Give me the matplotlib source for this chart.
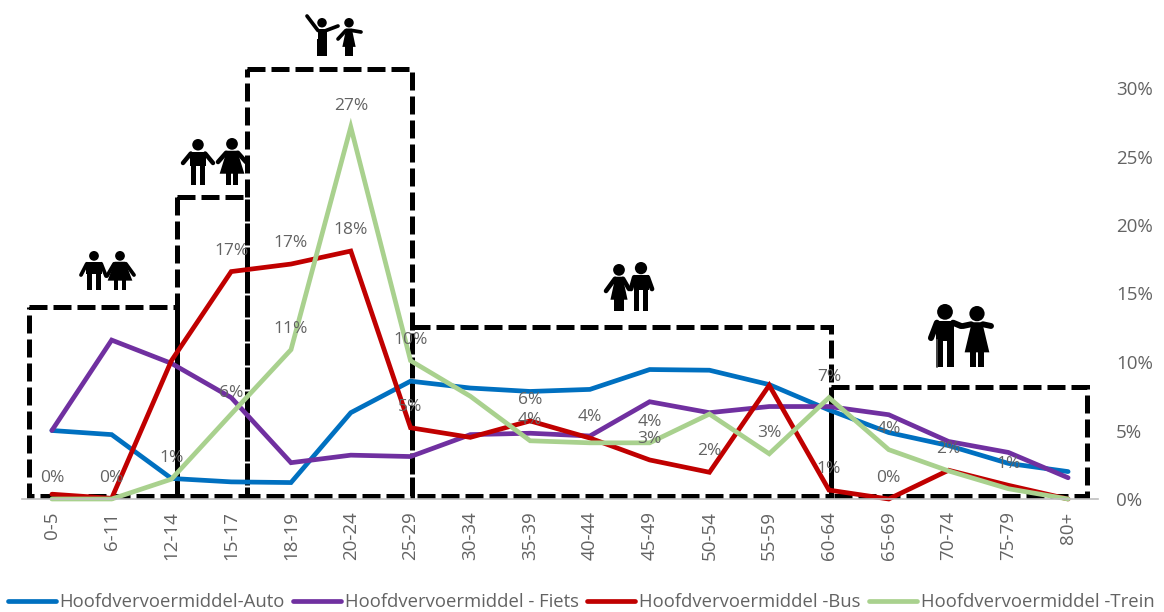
import matplotlib

matplotlib.use("Agg")
import matplotlib.pyplot as plt
from matplotlib.patches import Circle, Polygon, Rectangle

plt.rcParams["font.family"] = ["Open Sans", "DejaVu Sans"]

GREY = "#636363"

leeftijd = ["0-5", "6-11", "12-14", "15-17", "18-19", "20-24", "25-29", "30-34", "35-39",
            "40-44", "45-49", "50-54", "55-59", "60-64", "65-69", "70-74", "75-79", "80+"]
auto = [5.0, 4.7, 1.5, 1.25, 1.2, 6.3, 8.6, 8.1, 7.85, 8.0, 9.45, 9.4, 8.35, 6.5, 4.85, 3.9, 2.6, 2.0]
fiets = [5.0, 11.6, 9.9, 7.4, 2.65, 3.2, 3.1, 4.7, 4.8, 4.6, 7.1, 6.3, 6.75, 6.75, 6.15, 4.2, 3.4, 1.55]
bus = [0.35, 0.05, 10.1, 16.6, 17.15, 18.1, 5.2, 4.5, 5.7, 4.45, 2.85, 1.95, 8.3, 0.65, 0.0, 2.1, 1.0, 0.0]
trein = [0.0, 0.0, 1.45, 6.2, 10.9, 27.15, 10.1, 7.5, 4.25, 4.1, 4.1, 6.2, 3.3, 7.4, 3.6, 2.05, 0.75, 0.0]

series = [
    ("Hoofdvervoermiddel-Auto", auto, "#0070c0"),
    ("Hoofdvervoermiddel - Fiets", fiets, "#7030a0"),
    ("Hoofdvervoermiddel -Bus", bus, "#c00000"),
    ("Hoofdvervoermiddel -Trein", trein, "#a9d18e"),
]

# welke punten een label krijgen
bus_labels = [3, 4, 5, 6, 8, 9, 10, 11, 13, 14, 15, 16]
trein_labels = [0, 1, 2, 3, 4, 5, 6, 8, 10, 12, 13, 14]

# leeftijdsblokken: links, boven, rechts, onder (pixels)
blokken = [
    (29, 307, 177, 496),
    (177, 197, 247, 496),
    (247, 69, 412, 496),
    (412, 327, 831, 496),
    (831, 387, 1087, 496),
]

# poppetjes: midden x, bovenkant, hoogte, breedte romp, jurk, eindpunten armen (dx, dy vanaf midden)
poppetjes = [
    (94, 251, 39, 16, False, (-13, 24), (12, 25)),
    (120, 251, 39, 13, True, (-13, 25), (14, 24)),
    (198, 139, 46, 16, False, (-15, 24), (15, 24)),
    (232, 138, 47, 13, True, (-14, 24), (14, 24)),
    (322, 18, 38, 9, False, (-15, -2), (16, 8)),
    (349, 18, 38, 7, True, (-11, 21), (12, 14)),
    (641, 262, 49, 15, False, (-10, 27), (11, 27)),
    (619, 264, 47, 9, True, (-13, 27), (10, 25)),
    (945, 304, 63, 18, False, (-14, 34), (16, 22)),
    (977, 306, 61, 13, True, (-14, 20), (14, 20)),
]

# wandelstok bij de oudere man
stok = ([937, 937], [340, 367])


def teken_poppetje(ax, cx, top, h, breed, jurk, arm_l, arm_r):
    """Silhouet: hoofd, romp of jurk, armen en twee benen."""
    r = max(h * 0.125, 4.2)
    ax.add_patch(Circle((cx, top + r), r, color="black", lw=0))
    romp = top + 2 * r + 1
    schouder = romp + 2
    heup = top + h * 0.58
    been = max(h * 0.11, 3.5)
    if jurk:
        rok = top + h * 0.76
        ax.add_patch(Polygon([(cx - breed * 0.4, romp), (cx + breed * 0.4, romp),
                              (cx + breed * 0.95, rok), (cx - breed * 0.95, rok)], color="black", lw=0))
        benen = rok
        afstand = breed * 0.3
    else:
        ax.add_patch(Rectangle((cx - breed / 2, romp), breed, heup - romp, color="black", lw=0))
        benen = heup
        afstand = breed * 0.28
    for kant, arm in ((-1, arm_l), (1, arm_r)):
        ax.plot([cx + kant * breed * 0.45, cx + arm[0]], [schouder, top + arm[1]],
                color="black", lw=max(h * 0.07, 2.2), solid_capstyle="round")
        ax.add_patch(Rectangle((cx + kant * afstand - been / 2, benen - 1), been, top + h - benen + 1,
                               color="black", lw=0))


fig = plt.figure(figsize=(11.64, 6.12), dpi=100, facecolor="white")
ax = fig.add_axes([22 / 1164, (612 - 499) / 612, 1076 / 1164, 411 / 612])
ax.patch.set_alpha(0)

# overlay in pixels voor de blokken en poppetjes, onder de lijnen
overlay = fig.add_axes([0, 0, 1, 1], zorder=0)
overlay.set_xlim(0, 1164)
overlay.set_ylim(612, 0)
overlay.axis("off")
ax.set_zorder(1)

for links, boven, rechts, onder in blokken:
    overlay.add_patch(Rectangle((links, boven), rechts - links, onder - boven, fill=False,
                                edgecolor="black", lw=3.6, linestyle=(0, (3.6, 1.2)),
                                capstyle="butt", joinstyle="miter"))
for pop in poppetjes:
    teken_poppetje(overlay, *pop)
overlay.plot(stok[0], stok[1], color="#555555", lw=1.2)

x = list(range(len(leeftijd)))
for naam, waarden, kleur in series:
    ax.plot(x, waarden, color=kleur, lw=3.4, label=naam, solid_joinstyle="miter",
            solid_capstyle="round", clip_on=False)

for waarden, punten in ((bus, bus_labels), (trein, trein_labels)):
    for i in punten:
        ax.annotate(f"{waarden[i]:.0f}%", (i, waarden[i]), xytext=(0, 15), textcoords="offset points",
                    ha="center", va="center", color=GREY, fontsize=12.5)

ax.set_xlim(-0.5, len(leeftijd) - 0.5)
ax.set_ylim(0, 30)
ax.set_xticks(x)
ax.set_xticklabels(leeftijd, rotation=90, color=GREY, fontsize=13.5)
ax.yaxis.tick_right()
ax.set_yticks(range(0, 31, 5))
ax.set_yticklabels([f"{v}%" for v in range(0, 31, 5)], color=GREY, fontsize=13.5)
ax.tick_params(axis="both", length=0)
ax.tick_params(axis="x", pad=9)
ax.tick_params(axis="y", pad=13)
for kant in ("top", "left", "right"):
    ax.spines[kant].set_visible(False)
ax.spines["bottom"].set_color("#bfbfbf")
ax.spines["bottom"].set_linewidth(1.2)

ax.legend(loc="lower left", bbox_to_anchor=(8 / 1164, 0.001), bbox_transform=fig.transFigure,
          ncol=4, frameon=False, fontsize=13.3, labelcolor=GREY, handlelength=2.6,
          handletextpad=0.2, columnspacing=0.45, borderpad=0, borderaxespad=0)

fig.savefig("out.png", dpi=100)
